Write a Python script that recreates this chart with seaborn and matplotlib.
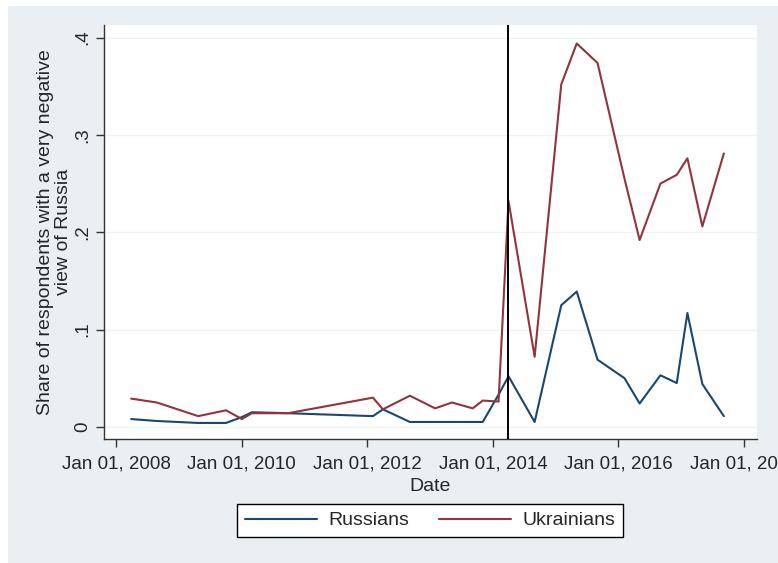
import matplotlib
matplotlib.use("Agg")
import matplotlib.pyplot as plt
import matplotlib.dates as mdates
import matplotlib.patches as mpatches
import numpy as np
import pandas as pd
import seaborn as sns

# Survey waves
dates = [
    "2008-03-28", "2008-08-25", "2009-04-22", "2009-10-01", "2010-01-01",
    "2010-03-01", "2010-09-27", "2012-02-03", "2012-04-01", "2012-09-05",
    "2013-01-30", "2013-05-08", "2013-09-06", "2013-11-03", "2014-02-03",
    "2014-04-02", "2014-09-01", "2015-02-03", "2015-05-04", "2015-09-02",
    "2016-02-06", "2016-05-04", "2016-09-02", "2016-12-06", "2017-02-06",
    "2017-05-04", "2017-09-06",
]

# Share of respondents with a very negative view of the other country
russians = [
    0.008, 0.006, 0.004, 0.004, 0.010,
    0.015, 0.014, 0.011, 0.018, 0.005,
    0.005, 0.005, 0.005, 0.005, 0.033,
    0.052, 0.005, 0.125, 0.139, 0.069,
    0.050, 0.024, 0.053, 0.045, 0.117,
    0.044, 0.011,
]
ukrainians = [
    0.029, 0.025, 0.011, 0.017, 0.008,
    0.014, 0.014, 0.030, 0.018, 0.032,
    0.019, 0.025, 0.019, 0.027, 0.026,
    0.232, 0.072, 0.352, 0.394, 0.374,
    0.255, 0.192, 0.250, 0.259, 0.276,
    0.206, 0.281,
]

groups = ["Russians", "Ukrainians"]
colors = {"Russians": "#1a476f", "Ukrainians": "#90353b"}
event_date = "2014-03-30"

x_ticks = [f"{y}-01-01" for y in range(2008, 2019, 2)]
y_ticks = [0, 0.1, 0.2, 0.3, 0.4]
y_tick_labels = ["0", ".1", ".2", ".3", ".4"]

df = pd.DataFrame({
    "Date": pd.to_datetime(dates * 2),
    "share": russians + ukrainians,
    "group": ["Russians"] * len(dates) + ["Ukrainians"] * len(dates),
})

sns.set_theme(style="white")
plt.rcParams["font.family"] = ["Liberation Sans", "DejaVu Sans"]

bg = "#e9eff2"
fig = plt.figure(figsize=(7.78, 5.63), dpi=100)
fig.patch.set_facecolor("white")
fig.patches.append(mpatches.Rectangle((8 / 778, 0), 1, 1 - 6 / 563,
                                      transform=fig.transFigure,
                                      facecolor=bg, edgecolor="none", zorder=-10))

ax = fig.add_axes([104 / 778, 1 - 439 / 563, (757 - 104) / 778, (439 - 25) / 563])
ax.set_facecolor("white")

for yv in y_ticks:
    ax.axhline(yv, color="#edf2f4", lw=1.0, zorder=0)

sns.lineplot(data=df, x="Date", y="share", hue="group", hue_order=groups,
             palette=colors, linewidth=1.5, ax=ax, legend=True)

ax.axvline(pd.Timestamp(event_date), color="black", lw=1.4, zorder=5)

ax.set_xlim(pd.Timestamp("2007-10-22"), pd.Timestamp("2018-03-18"))
ax.set_ylim(-0.0125, 0.413)

ax.set_xticks(pd.to_datetime(x_ticks))
ax.xaxis.set_major_formatter(mdates.DateFormatter("%b %d, %Y"))
ax.set_yticks(y_ticks)
ax.set_yticklabels(y_tick_labels, rotation=90, va="center")

fs = 13.5
ax.tick_params(axis="x", which="major", labelsize=fs, direction="out",
               length=6, width=1.0, color="#333333", bottom=True, pad=6)
ax.tick_params(axis="y", which="major", labelsize=fs, direction="out",
               length=6, width=1.0, color="#333333", left=True, pad=3)
for lbl in ax.get_xticklabels():
    lbl.set_clip_on(False)

for side in ["top", "right"]:
    ax.spines[side].set_visible(False)
for side in ["left", "bottom"]:
    ax.spines[side].set_color("#333333")
    ax.spines[side].set_linewidth(1.0)

ax.set_xlabel("Date", fontsize=14, labelpad=4)
ax.set_ylabel("Share of respondents with a very negative\nview of Russia",
              fontsize=14, linespacing=1.02, labelpad=2)

ax.legend_.remove()
handles = [plt.Line2D([], [], color=colors[g], lw=1.5) for g in groups]
leg = fig.legend(handles, groups, loc="center",
                 bbox_to_anchor=(430 / 778, 1 - 520.5 / 563), ncol=2,
                 fontsize=14, frameon=True, fancybox=False, edgecolor="black",
                 facecolor="white", framealpha=1, handlelength=3.7,
                 handletextpad=0.6, columnspacing=1.5, borderpad=0.4)
leg.get_frame().set_linewidth(1.0)

fig.savefig("out.png", dpi=100, facecolor=fig.get_facecolor())
